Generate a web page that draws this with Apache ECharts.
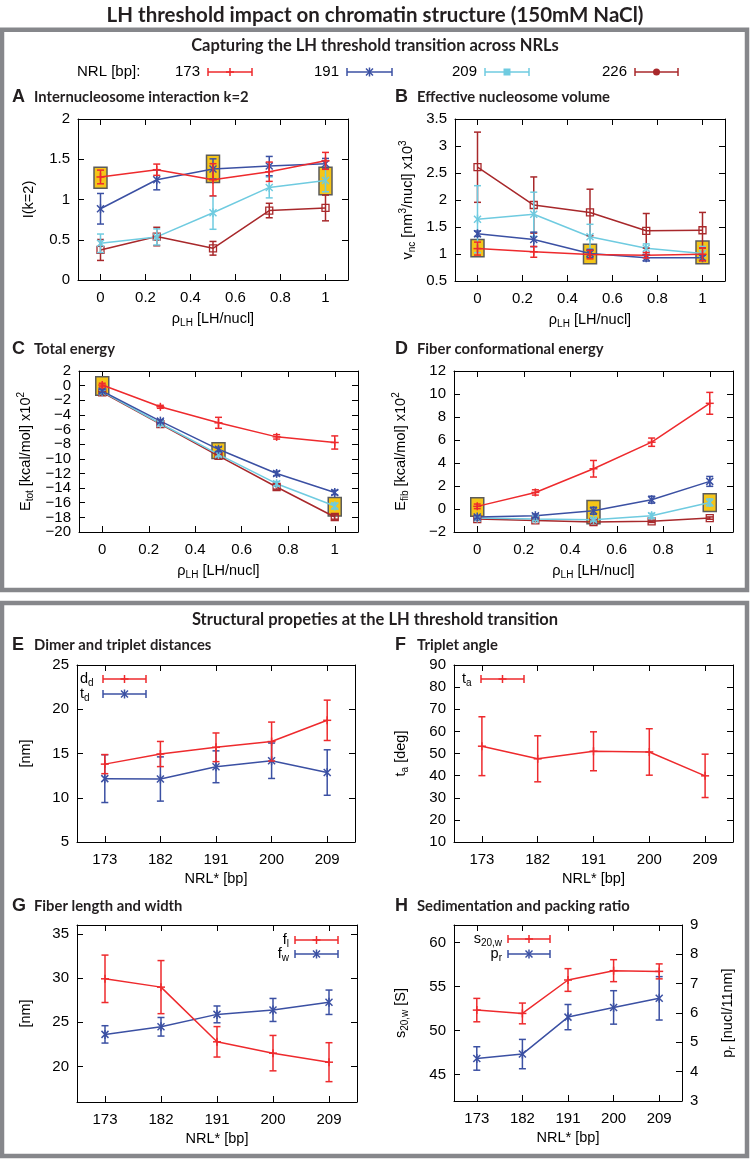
<!DOCTYPE html>
<html><head><meta charset="utf-8">
<script src="https://cdn.jsdelivr.net/npm/echarts@6/dist/echarts.min.js"></script>
<style>html,body{margin:0;padding:0;background:#fff}#c{width:750px;height:1159px}</style>
</head><body><div id="c"></div>
<script>
// ---------------- DATA ----------------
const rhoLH = [0, 0.25, 0.5, 0.75, 1];
const rhoTicks = [0, 0.2, 0.4, 0.6, 0.8, 1];
const nrlSeries = ['173', '191', '209', '226'];
const nrlStar = ['173', '182', '191', '200', '209'];

// A: internucleosome interaction I(k=2)
const aI173 = [1.28, 1.37, 1.245, 1.345, 1.48];
const aI173Err = [0.085, 0.07, 0.2, 0.12, 0.105];
const aI191 = [0.885, 1.245, 1.38, 1.415, 1.445];
const aI191Err = [0.19, 0.125, 0.125, 0.12, 0.065];
const aI209 = [0.456, 0.535, 0.835, 1.15, 1.236];
const aI209Err = [0.115, 0.1, 0.205, 0.13, 0.14];
const aI226 = [0.373, 0.54, 0.394, 0.863, 0.895];
const aI226Err = [0.13, 0.115, 0.085, 0.09, 0.16];
const aBoxes = [[0, 1.14, 1.40], [0.5, 1.21, 1.55], [1, 1.06, 1.40]];

// B: effective nucleosome volume
const bV173 = [1.10, 1.04, 0.99, 0.977, 0.995];
const bV173Err = [0.12, 0.1, 0.08, 0.05, 0.12];
const bV191 = [1.375, 1.27, 1.01, 0.93, 0.93];
const bV191Err = [0.05, 0.135, 0.075, 0.06, 0.05];
const bV209 = [1.645, 1.735, 1.32, 1.107, 1.01];
const bV209Err = [0.62, 0.41, 0.23, 0.08, 0.13];
const bV226 = [2.607, 1.907, 1.77, 1.43, 1.44];
const bV226Err = [0.65, 0.52, 0.43, 0.32, 0.33];
const bBoxes = [[0, 0.95, 1.27], [0.5, 0.82, 1.18], [1, 0.82, 1.24]];

// C: total energy
const cE173 = [0.08, -2.89, -5.08, -7.0, -7.77];
const cE173Err = [0.25, 0.2, 0.75, 0.3, 0.9];
const cE191 = [-0.74, -4.85, -8.7, -12.0, -14.6];
const cE191Err = [0.2, 0.2, 0.3, 0.3, 0.3];
const cE209 = [-0.83, -5.17, -9.4, -13.4, -16.45];
const cE209Err = [0.2, 0.2, 0.3, 0.3, 0.4];
const cE226 = [-0.92, -5.26, -9.6, -13.85, -17.95];
const cE226Err = [0.2, 0.2, 0.25, 0.3, 0.3];
const cBoxes = [[0, -1.3, 1.2], [0.5, -9.96, -7.8], [1, -17.8, -15.3]];
const cTicks = [-20, -18, -16, -14, -12, -10, -8, -6, -4, -2, 0, 2];

// D: fiber conformational energy
const dE173 = [0.23, 1.44, 3.5, 5.81, 9.19];
const dE173Err = [0.2, 0.23, 0.72, 0.36, 0.95];
const dE191 = [-0.7, -0.58, -0.15, 0.81, 2.4];
const dE191Err = [0.12, 0.15, 0.3, 0.3, 0.43];
const dE209 = [-0.79, -0.87, -0.93, -0.58, 0.57];
const dE209Err = [0.1, 0.1, 0.12, 0.2, 0.3];
const dE226 = [-0.87, -0.99, -1.13, -1.07, -0.79];
const dE226Err = [0.1, 0.1, 0.1, 0.1, 0.1];
const dBoxes = [[0, -0.64, 0.97], [0.5, -1.28, 0.75], [1, -0.21, 1.33]];

// E: dimer and triplet distances
const eDd = [13.8, 14.94, 15.7, 16.35, 18.75];
const eDdErr = [1.08, 1.42, 1.62, 2.2, 2.28];
const eTd = [12.16, 12.12, 13.5, 14.18, 12.85];
const eTdErr = [2.7, 2.5, 1.8, 2.0, 2.57];

// F: triplet angle
const fTa = [53.3, 47.6, 51.0, 50.7, 39.9];
const fTaErr = [13.3, 10.4, 8.8, 10.5, 9.8];

// G: fiber length and width
const gFl = [29.92, 28.98, 22.8, 21.52, 20.5];
const gFlErr = [2.68, 3.0, 1.72, 2.0, 2.2];
const gFw = [23.64, 24.5, 25.9, 26.4, 27.27];
const gFwErr = [0.98, 1.05, 0.95, 1.3, 1.38];

// H: sedimentation and packing ratio
const hS = [52.33, 51.95, 55.75, 56.81, 56.73];
const hSErr = [1.33, 1.18, 1.29, 1.25, 0.85];
const hPr = [4.45, 4.6, 5.86, 6.19, 6.5];
const hPrErr = [0.4, 0.5, 0.43, 0.57, 0.74];

const gTicks = [20, 25, 30, 35];
const hTicks = [45, 50, 55, 60];

// ---------------- STYLE ----------------
const FONT = 'Liberation Sans';
const TFONT = 'Lato';
const RED = '#ee2a2d', BLUE = '#3b50a3', CYAN = '#6fcbe0', DRED = '#a8282b';
const RICH = {
  n: {fontSize: 14.5, fontFamily: FONT, color: '#000'},
  s: {fontSize: 10, fontFamily: FONT, color: '#000', padding: [9, 0, 0, 0]},
  p: {fontSize: 10, fontFamily: FONT, color: '#000', padding: [0, 0, 9, 0]}
};
const minusFmt = v => String(v).replace('-', '\u2212');

const grids = [], xAxes = [], yAxes = [], series = [];

function axisBase(mirror) {
  return {
    axisLine: {show: true, onZero: false, lineStyle: {color: '#000', width: 1}},
    axisTick: {show: true, inside: true, length: 6, lineStyle: {color: '#000', width: 1}},
    axisLabel: {show: !mirror, color: '#000', fontSize: 15, fontFamily: FONT, margin: 8,
      showMinLabel: true, showMaxLabel: true, hideOverlap: false},
    splitLine: {show: false},
    nameTextStyle: {rich: RICH}
  };
}
function valAxis(o, mirror) {
  const ax = axisBase(mirror);
  ax.type = 'value'; ax.min = o.min; ax.max = o.max;
  if (o.interval != null) ax.interval = o.interval;
  if (o.ticks) { ax.axisTick.customValues = o.ticks; ax.axisLabel.customValues = o.ticks; }
  if (o.labels) ax.axisLabel.customValues = o.labels;
  ax.axisLabel.formatter = minusFmt;
  return ax;
}
function catAxis(cats, mirror) {
  const ax = axisBase(mirror);
  ax.type = 'category'; ax.data = cats; ax.boundaryGap = true;
  ax.axisTick.alignWithLabel = true;
  ax.axisLabel.margin = 10;
  return ax;
}
function addPanel(rect, xDef, yDef, xName, yName, yGap, y2Def) {
  const gi = grids.length;
  grids.push({left: rect[0], top: rect[1], width: rect[2], height: rect[3]});
  const mk = (def, mirror) => def.cats ? catAxis(def.cats, mirror) : valAxis(def, mirror);
  const xb = mk(xDef, false); xb.gridIndex = gi; xb.position = 'bottom';
  if (!xDef.cats) xb.axisLabel.margin = 10;
  xb.name = xName; xb.nameLocation = 'middle'; xb.nameGap = 29;
  const xt = mk(xDef, true); xt.gridIndex = gi; xt.position = 'top';
  const yl = mk(yDef, false); yl.gridIndex = gi; yl.position = 'left';
  yl.name = yName; yl.nameLocation = 'middle'; yl.nameGap = yGap;
  let yr;
  if (y2Def) {
    yr = mk(y2Def, false); yr.name = y2Def.name; yr.nameLocation = 'middle'; yr.nameGap = y2Def.gap;
  } else yr = mk(yDef, true);
  yr.gridIndex = gi; yr.position = 'right';
  const xi = xAxes.length; xAxes.push(xb, xt);
  const yi = yAxes.length; yAxes.push(yl, yr);
  // extra label-only axis (used when labels are too dense for one axis)
  if (yDef.labels2) {
    const ye = valAxis({min: yDef.min, max: yDef.max, labels: yDef.labels2}, false);
    ye.gridIndex = gi; ye.position = 'left'; ye.offset = 0;
    ye.axisLine = {show: false}; ye.axisTick = {show: false};
    yAxes.push(ye);
  }
  return {xi: xi, yi: yi, yi2: yi + 1};
}

function markerShapes(type, x, y, color) {
  const st = {stroke: color, lineWidth: 1.5, fill: 'none'};
  const L = (x1, y1, x2, y2) => ({type: 'line', shape: {x1, y1, x2, y2}, style: st});
  if (type === 'plus') return [L(x - 4, y, x + 4, y), L(x, y - 4, x, y + 4)];
  if (type === 'star') return [L(x - 3.5, y - 3.5, x + 3.5, y + 3.5), L(x - 3.5, y + 3.5, x + 3.5, y - 3.5), L(x, y - 4.5, x, y + 4.5)];
  if (type === 'square') return [{type: 'rect', shape: {x: x - 3.5, y: y - 3.5, width: 7, height: 7}, style: {stroke: color, lineWidth: 1.3, fill: 'none'}}];
  if (type === 'fsquare') return [{type: 'rect', shape: {x: x - 3.5, y: y - 3.5, width: 7, height: 7}, style: {fill: color}}];
  if (type === 'circle') return [{type: 'circle', shape: {cx: x, cy: y, r: 3.5}, style: {fill: color}}];
  return [];
}

function errRender(color, marker) {
  return function (params, api) {
    const x = api.value(0), y = api.value(1), e = api.value(2);
    const c = api.coord([x, y]), lo = api.coord([x, y - e]), hi = api.coord([x, y + e]);
    const cap = 3.5;
    const st = {stroke: color, lineWidth: 1.5};
    const ch = [
      {type: 'line', shape: {x1: c[0], y1: lo[1], x2: c[0], y2: hi[1]}, style: st},
      {type: 'line', shape: {x1: c[0] - cap, y1: lo[1], x2: c[0] + cap, y2: lo[1]}, style: st},
      {type: 'line', shape: {x1: c[0] - cap, y1: hi[1], x2: c[0] + cap, y2: hi[1]}, style: st}
    ].concat(markerShapes(marker, c[0], c[1], color));
    return {type: 'group', children: ch};
  };
}
function boxRender(params, api) {
  const x = api.value(0);
  const lo = api.coord([x, api.value(1)]), hi = api.coord([x, api.value(2)]);
  return {type: 'rect', shape: {x: lo[0] - 6.5, y: hi[1], width: 13, height: lo[1] - hi[1]},
    style: {fill: '#f5c518', stroke: '#5b5b5b', lineWidth: 1.5}};
}

function addSeries(ax, xs, ys, errs, color, marker, yIdx) {
  const yi = yIdx == null ? ax.yi : yIdx;
  series.push({type: 'line', xAxisIndex: ax.xi, yAxisIndex: yi, z: 3,
    data: xs.map((x, i) => [x, ys[i]]), showSymbol: false, silent: true,
    lineStyle: {color: color, width: 1.5}, itemStyle: {color: color}});
  series.push({type: 'custom', xAxisIndex: ax.xi, yAxisIndex: yi, z: 4, silent: true,
    data: xs.map((x, i) => [x, ys[i], errs[i]]), encode: {x: 0, y: 1},
    renderItem: errRender(color, marker)});
}
function addBoxes(ax, boxes) {
  series.push({type: 'custom', xAxisIndex: ax.xi, yAxisIndex: ax.yi, z: 2, silent: true,
    data: boxes, encode: {x: 0, y: [1, 2]}, renderItem: boxRender});
}

// ---------------- PANELS ----------------
const rhoDef = {min: -0.1, max: 1.1, ticks: rhoTicks};
const rhoName = '{n|\u03c1}{s|LH}{n| [LH/nucl]}';
const nrlName = '{n|NRL* [bp]}';
const catDef = {cats: nrlStar};

const pA = addPanel([78, 119, 270, 161], rhoDef, {min: 0, max: 2, interval: 0.5}, rhoName, '{n|I(k=2)}', 42);
addBoxes(pA, aBoxes);
addSeries(pA, rhoLH, aI226, aI226Err, DRED, 'square');
addSeries(pA, rhoLH, aI209, aI209Err, CYAN, 'star');
addSeries(pA, rhoLH, aI191, aI191Err, BLUE, 'star');
addSeries(pA, rhoLH, aI173, aI173Err, RED, 'plus');

const pB = addPanel([455, 119, 270, 162], rhoDef, {min: 0.5, max: 3.5, interval: 0.5}, rhoName,
  '{n|v}{s|nc}{n| [nm}{p|3}{n|/nucl] x10}{p|3}', 38);
addBoxes(pB, bBoxes);
addSeries(pB, rhoLH, bV226, bV226Err, DRED, 'square');
addSeries(pB, rhoLH, bV209, bV209Err, CYAN, 'star');
addSeries(pB, rhoLH, bV191, bV191Err, BLUE, 'star');
addSeries(pB, rhoLH, bV173, bV173Err, RED, 'plus');

const pC = addPanel([79, 371, 279, 161], rhoDef,
  {min: -20, max: 2, ticks: cTicks, labels: cTicks.filter((v, i) => i % 2 === 0),
   labels2: cTicks.filter((v, i) => i % 2 === 1)}, rhoName,
  '{n|E}{s|tot}{n| [kcal/mol] x10}{p|2}', 44);
addBoxes(pC, cBoxes);
addSeries(pC, rhoLH, cE226, cE226Err, DRED, 'square');
addSeries(pC, rhoLH, cE209, cE209Err, CYAN, 'star');
addSeries(pC, rhoLH, cE191, cE191Err, BLUE, 'star');
addSeries(pC, rhoLH, cE173, cE173Err, RED, 'plus');

const pD = addPanel([454, 371, 279, 161], rhoDef, {min: -2, max: 12, interval: 2}, rhoName,
  '{n|E}{s|fib}{n| [kcal/mol] x10}{p|2}', 44);
addBoxes(pD, dBoxes);
addSeries(pD, rhoLH, dE226, dE226Err, DRED, 'square');
addSeries(pD, rhoLH, dE209, dE209Err, CYAN, 'star');
addSeries(pD, rhoLH, dE191, dE191Err, BLUE, 'star');
addSeries(pD, rhoLH, dE173, dE173Err, RED, 'plus');

const pE = addPanel([77, 665, 278, 177], catDef, {min: 5, max: 25, interval: 5}, nrlName, '{n|[nm]}', 44);
addSeries(pE, nrlStar, eTd, eTdErr, BLUE, 'star');
addSeries(pE, nrlStar, eDd, eDdErr, RED, 'plus');

const pF = addPanel([454, 665, 279, 177], catDef, {min: 10, max: 90, interval: 10}, nrlName, '{n|t}{s|a}{n| [deg]}', 44);
addSeries(pF, nrlStar, fTa, fTaErr, RED, 'plus');

const pG = addPanel([77, 925, 280, 177], catDef, {min: 16, max: 36, ticks: gTicks}, nrlName, '{n|[nm]}', 44);
addSeries(pG, nrlStar, gFw, gFwErr, BLUE, 'star');
addSeries(pG, nrlStar, gFl, gFlErr, RED, 'plus');

const pH = addPanel([454, 925, 228, 176], catDef, {min: 42, max: 62, ticks: hTicks}, nrlName,
  '{n|s}{s|20,w}{n| [S]}', 44,
  {min: 3, max: 9, interval: 1, name: '{n|p}{s|r}{n| [nucl/11nm]}', gap: 36});
addSeries(pH, nrlStar, hPr, hPrErr, BLUE, 'star', pH.yi2);
addSeries(pH, nrlStar, hS, hSErr, RED, 'plus');

// ---------------- GRAPHICS (titles, frames, keys) ----------------
const G = [];
function txt(x, y, text, o) {
  G.push(Object.assign({type: 'text', x: x, y: y, silent: true,
    style: Object.assign({text: text, fill: '#000', fontFamily: FONT, fontSize: 14.5,
      textAlign: 'left', textVerticalAlign: 'middle', rich: RICH}, o || {})}));
}
function keySample(x1, x2, y, color, marker) {
  const st = {stroke: color, lineWidth: 1.5};
  G.push({type: 'line', silent: true, shape: {x1: x1, y1: y, x2: x2, y2: y}, style: st});
  G.push({type: 'line', silent: true, shape: {x1: x1, y1: y - 4, x2: x1, y2: y + 4}, style: st});
  G.push({type: 'line', silent: true, shape: {x1: x2, y1: y - 4, x2: x2, y2: y + 4}, style: st});
  markerShapes(marker, (x1 + x2) / 2, y, color).forEach(m => { m.silent = true; G.push(m); });
}
G.push({type: 'rect', silent: true, shape: {x: 2, y: 29.8, width: 745, height: 560.2},
  style: {fill: 'none', stroke: '#86878b', lineWidth: 4.5}});
G.push({type: 'rect', silent: true, shape: {x: 2, y: 603, width: 745, height: 553},
  style: {fill: 'none', stroke: '#86878b', lineWidth: 4.5}});

txt(375, 15, 'LH threshold impact on chromatin structure (150mM NaCl)',
  {textAlign: 'center', fontFamily: TFONT, fontWeight: 'bold', fontSize: 20.5, fill: '#231f20'});
txt(375, 46, 'Capturing the LH threshold transition across NRLs',
  {textAlign: 'center', fontFamily: TFONT, fontWeight: 'bold', fontSize: 16.5, fill: '#231f20'});
txt(375, 620, 'Structural propeties at the LH threshold transition',
  {textAlign: 'center', fontFamily: TFONT, fontWeight: 'bold', fontSize: 16.5, fill: '#231f20'});

// top key
txt(77, 72, 'NRL [bp]:', {fontSize: 15});
const keyPos = [[200, 208, 252], [339, 347, 392], [477, 485, 529], [627, 635, 678]];
const keyCol = [RED, BLUE, CYAN, DRED];
const keyMark = ['plus', 'star', 'fsquare', 'circle'];
nrlSeries.forEach((n, i) => {
  txt(keyPos[i][0], 72, n, {fontSize: 15, textAlign: 'right'});
  keySample(keyPos[i][1], keyPos[i][2], 72, keyCol[i], keyMark[i]);
});

// panel titles
const titles = [
  [12, 97, 'A', 'Internucleosome interaction k=2'],
  [395, 97, 'B', 'Effective nucleosome volume'],
  [12, 349, 'C', 'Total energy'],
  [395, 349, 'D', 'Fiber conformational energy'],
  [12, 645, 'E', 'Dimer and triplet distances'],
  [395, 645, 'F', 'Triplet angle'],
  [12, 906, 'G', 'Fiber length and width'],
  [395, 906, 'H', 'Sedimentation and packing ratio']
];
titles.forEach(t => {
  txt(t[0], t[1], t[2], {fontSize: 18, fontWeight: 'bold', fontFamily: FONT, fill: '#231f20'});
  txt(t[0] + 22, t[1], t[3], {fontSize: 14.8, fontWeight: 'bold', fontFamily: TFONT, fill: '#231f20'});
});

// in-panel keys
txt(80, 679, '{n|d}{s|d}'); keySample(103, 146, 679, RED, 'plus');
txt(80, 694, '{n|t}{s|d}'); keySample(103, 146, 694, BLUE, 'star');
txt(462, 679, '{n|t}{s|a}'); keySample(481, 524, 679, RED, 'plus');
txt(289, 940, '{n|f}{s|l}', {textAlign: 'right'}); keySample(295, 338, 940, RED, 'plus');
txt(289, 954, '{n|f}{s|w}', {textAlign: 'right'}); keySample(295, 338, 954, BLUE, 'star');
txt(502, 939, '{n|s}{s|20,w}', {textAlign: 'right'}); keySample(508, 550, 939, RED, 'plus');
txt(502, 954, '{n|p}{s|r}', {textAlign: 'right'}); keySample(508, 550, 954, BLUE, 'star');

const chart = echarts.init(document.getElementById('c'), null, {renderer: 'canvas'});
chart.setOption({
  animation: false,
  backgroundColor: '#fff',
  grid: grids,
  xAxis: xAxes,
  yAxis: yAxes,
  series: series,
  graphic: {elements: G}
});
</script></body></html>
